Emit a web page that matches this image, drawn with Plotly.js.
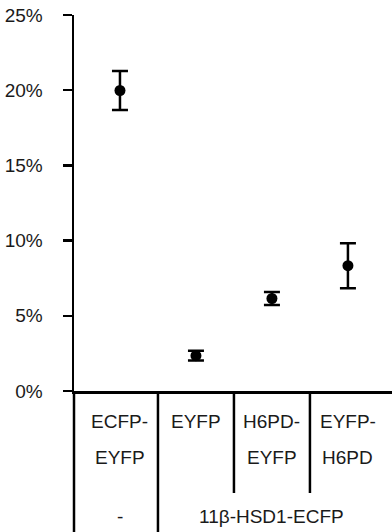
<!DOCTYPE html>
<html>
<head>
<meta charset="utf-8">
<script src="https://cdn.plot.ly/plotly-3.0.1.min.js"></script>
<style>html,body{margin:0;padding:0;background:#fff;}#chart{width:392px;height:532px;}</style>
</head>
<body>
<div id="chart"></div>
<script>
// Data
var categories = ["ECFP-EYFP", "EYFP", "H6PD-EYFP", "EYFP-H6PD"];
var values = [19.98, 2.35, 6.15, 8.33];
var errors = [1.3, 0.33, 0.43, 1.5];
var labelRow1 = ["ECFP-", "EYFP", "H6PD-", "EYFP-"];
var labelRow2 = ["EYFP", "", "EYFP", "H6PD"];
var groupLabels = ["-", "11\u03B2-HSD1-ECFP"];
var groupCenters = [0, 2];
var yTicks = [0, 5, 10, 15, 20, 25];

var xIdx = categories.map(function (c, i) { return i; });
var font = {family: "Liberation Sans, Arial, sans-serif", size: 19, color: "#1a1a1a"};
var lw = 2.5;

var trace = {
  x: xIdx,
  y: values,
  type: "scatter",
  mode: "markers",
  marker: {color: "#000", size: 11},
  error_y: {type: "data", array: errors, visible: true, color: "#000", thickness: lw, width: 8},
  hoverinfo: "none",
  showlegend: false
};

var shapes = [];
shapes.push({type: "line", xref: "paper", yref: "paper", x0: 0, x1: 0, y0: 0, y1: -0.38,
  line: {color: "#000", width: lw}});
categories.forEach(function (c, i) {
  if (i === 0) return;
  var full = (i === 1);
  shapes.push({type: "line", xref: "x", yref: "paper", x0: i - 0.5, x1: i - 0.5,
    y0: 0, y1: full ? -0.38 : -0.2713, line: {color: "#000", width: lw}});
});

var annotations = [];
categories.forEach(function (c, i) {
  annotations.push({x: i, y: -0.0824, xref: "x", yref: "paper", text: labelRow1[i],
    showarrow: false, font: font, xanchor: "center", yanchor: "middle"});
  if (labelRow2[i]) {
    annotations.push({x: i, y: -0.178, xref: "x", yref: "paper", text: labelRow2[i],
      showarrow: false, font: font, xanchor: "center", yanchor: "middle"});
  }
});
groupLabels.forEach(function (g, i) {
  annotations.push({x: groupCenters[i], y: -0.335, xref: "x", yref: "paper", text: g,
    showarrow: false, font: font, xanchor: "center", yanchor: "middle"});
});

var layout = {
  width: 392,
  height: 532,
  margin: {l: 74, r: 0, t: 15, b: 141, pad: 0},
  paper_bgcolor: "#fff",
  plot_bgcolor: "#fff",
  showlegend: false,
  xaxis: {
    range: [-0.605, 3.58],
    showgrid: false, zeroline: false, showticklabels: false, ticks: "",
    showline: true, linecolor: "#000", linewidth: lw, fixedrange: true
  },
  yaxis: {
    range: [0, 25],
    tickvals: yTicks,
    ticktext: yTicks.map(function (v) { return v + "%"; }),
    ticks: "outside", ticklen: 9, tickwidth: lw, tickcolor: "#000",
    ticklabelstandoff: 16,
    showgrid: false, zeroline: false,
    showline: true, linecolor: "#000", linewidth: lw,
    tickfont: font, fixedrange: true
  },
  shapes: shapes,
  annotations: annotations
};

Plotly.newPlot("chart", [trace], layout, {displayModeBar: false, staticPlot: true});
</script>
</body>
</html>
